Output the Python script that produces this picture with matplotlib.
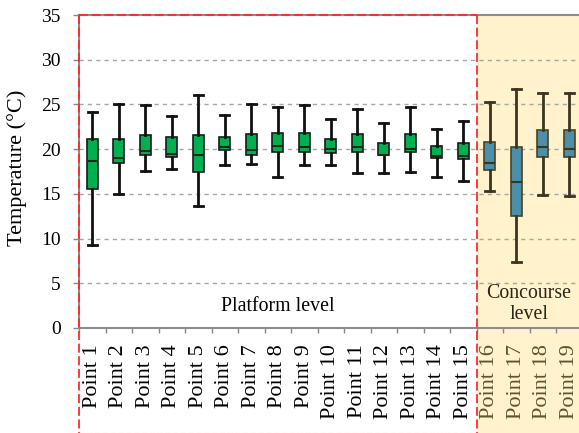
import matplotlib
matplotlib.use("Agg")
import matplotlib.pyplot as plt
from matplotlib.lines import Line2D
from matplotlib.patches import Rectangle

# Temperature distribution per measuring point (°C)
points = [f"Point {i}" for i in range(1, 20)]
whisker_low = [9.3, 15.0, 17.6, 17.8, 13.6, 18.2, 18.3, 16.9, 18.2, 18.2,
               17.3, 17.3, 17.4, 16.9, 16.4, 15.3, 7.4, 14.9, 14.8]
q1 = [15.5, 18.5, 19.4, 19.1, 17.5, 19.9, 19.4, 19.7, 19.7, 19.6,
      19.7, 19.3, 19.7, 19.0, 18.9, 17.7, 12.5, 19.1, 19.1]
median = [18.7, 19.0, 19.8, 19.5, 19.3, 20.2, 19.9, 20.4, 20.2, 20.0,
          20.2, 19.4, 20.0, 19.2, 19.2, 18.5, 16.3, 20.2, 20.0]
q3 = [21.1, 21.1, 21.6, 21.4, 21.6, 21.4, 21.7, 21.8, 21.8, 21.1,
      21.7, 20.7, 21.7, 20.4, 20.7, 20.8, 20.2, 22.1, 22.1]
whisker_high = [24.2, 25.0, 24.9, 23.7, 26.1, 23.8, 25.0, 24.7, 24.9, 23.4,
                24.5, 22.9, 24.7, 22.2, 23.2, 25.3, 26.7, 26.3, 26.3]
n_platform = 15
y_ticks = [0, 5, 10, 15, 20, 25, 30, 35]

W, H = 579, 433
plt.rcParams["font.family"] = ["Liberation Serif", "DejaVu Serif"]


def fx(px):
    return px / W


def fy(py):
    return 1 - py / H


fig = plt.figure(figsize=(W / 100, H / 100), dpi=100)
fig.patch.set_facecolor("white")

# shaded concourse zone (runs down through the tick-label area)
fig.add_artist(Rectangle((fx(476.5), 0), fx(W - 476.5), fy(15), transform=fig.transFigure,
                         facecolor="#FFF2CC", edgecolor="none", zorder=0))

ax_left, ax_right, ax_top, ax_bottom = 79, 582.5, 15, 328
ax = fig.add_axes([fx(ax_left), fy(ax_bottom), fx(ax_right - ax_left), (ax_bottom - ax_top) / H])
ax.set_facecolor("none")
ax.set_zorder(2)

stats = []
for i in range(len(points)):
    stats.append(dict(whislo=whisker_low[i], q1=q1[i], med=median[i],
                      q3=q3[i], whishi=whisker_high[i], fliers=[]))

pos = list(range(1, len(points) + 1))
green_stats, blue_stats = stats[:n_platform], stats[n_platform:]

ax.bxp(green_stats, positions=pos[:n_platform], widths=0.4, capwidths=0.33,
       showfliers=False, patch_artist=True,
       boxprops=dict(facecolor="#00B050", edgecolor="#1a1a1a", linewidth=1.2),
       medianprops=dict(color="#1a2a1a", linewidth=1.5),
       whiskerprops=dict(color="#111111", linewidth=2.0),
       capprops=dict(color="#111111", linewidth=2.0), zorder=3)
ax.bxp(blue_stats, positions=pos[n_platform:], widths=0.4, capwidths=0.33,
       showfliers=False, patch_artist=True,
       boxprops=dict(facecolor="#4B8FA8", edgecolor="#4a4326", linewidth=1.2),
       medianprops=dict(color="#3b3520", linewidth=1.5),
       whiskerprops=dict(color="#3b3520", linewidth=2.0),
       capprops=dict(color="#3b3520", linewidth=2.0), zorder=3)

ax.set_xlim(0.5, len(points) + 0.5)
ax.set_ylim(0, 35)
ax.set_yticks(y_ticks)
ax.set_yticklabels([str(v) for v in y_ticks], fontsize=14)
for v in y_ticks[1:-1]:
    ax.axhline(v, color="#A6A6A6", linewidth=1.0, linestyle=(0, (3, 3)), zorder=1)

# category boundaries carry the tick marks, centres carry the labels
ax.set_xticks([p + 0.5 for p in range(0, len(points) + 1)])
ax.set_xticklabels([])
ax.set_xticks(pos, minor=True)
ax.set_xticklabels(points, minor=True, rotation=90, fontsize=16)
ax.tick_params(axis="x", which="major", length=3.6, width=1.0, color="#888888", direction="out")
ax.tick_params(axis="x", which="minor", length=0, pad=11.5)
ax.tick_params(axis="y", length=4.3, width=1.0, color="#888888", pad=9.0)
for lbl in ax.get_xticklabels(minor=True)[n_platform:]:
    lbl.set_color("#5e5430")

for s in ax.spines.values():
    s.set_color("#8c8c8c")
    s.set_linewidth(1.5)

fig.text(fx(278), fy(306.5), "Platform level", ha="center", va="center", fontsize=14.3)
fig.text(fx(529), fy(304), "Concourse\nlevel", ha="center", va="center",
         fontsize=14.3, linespacing=1.1, color="#2a2618")
fig.text(fx(17), fy(168), "Temperature (°C)", rotation=90, ha="center", va="center", fontsize=16)

# dashed outline of the platform zone
red = "#FF2A2A"
dash = dict(color=red, linewidth=1.3, dashes=(5, 2), transform=fig.transFigure, zorder=5)
fig.add_artist(Line2D([fx(79), fx(476.5)], [fy(15), fy(15)], **dash))
fig.add_artist(Line2D([fx(79), fx(79)], [fy(15), 0], **dash))
fig.add_artist(Line2D([fx(476.5), fx(476.5)], [fy(15), 0], **dash))
fig.add_artist(Line2D([fx(79), fx(476.5)], [fy(432.5), fy(432.5)],
                      color=red, linewidth=0.8, alpha=0.35, dashes=(5, 2),
                      transform=fig.transFigure, zorder=5))

fig.savefig("out.png", dpi=100)
